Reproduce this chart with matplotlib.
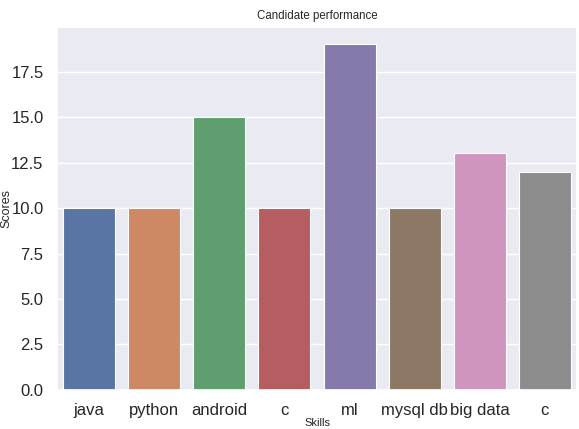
import matplotlib
matplotlib.use("Agg")
import matplotlib.pyplot as plt
import seaborn as sns

# skills and scores
skills = ["java", "python", "android", "c", "ml", "mysql db", "big data", "c"]
scores = [10, 10, 15, 10, 19, 10, 13, 12]

sns.set_theme(style="darkgrid")
plt.rcParams['font.family'] = ['Liberation Sans', 'DejaVu Sans']

fig = plt.figure(figsize=(5.79, 4.29), dpi=100)
ax = fig.add_axes([0.098, 0.091, 0.899, 0.846])

# seaborn barplot draws with saturation 0.75
colors = [sns.desaturate(c, 0.75) for c in sns.color_palette("deep", len(skills))]
x = list(range(len(skills)))
ax.bar(x, scores, width=0.8, color=colors, edgecolor="white", linewidth=0.8)
ax.set_xlim(-0.5, len(skills) - 0.5)
ax.set_ylim(0, max(scores) * 1.05)
ax.set_xticks(x)
ax.set_xticklabels(skills)
ax.grid(axis="x", visible=False)

ax.tick_params(axis="both", labelsize=12)
ax.set_xlabel("Skills", fontsize=8)
ax.set_ylabel("Scores", fontsize=9)
ax.xaxis.set_label_coords(0.5, -0.077)
ax.yaxis.set_label_coords(-0.086, 0.5)
ax.set_title("Candidate performance", fontsize=8.3)

fig.savefig("out.png", dpi=100)
